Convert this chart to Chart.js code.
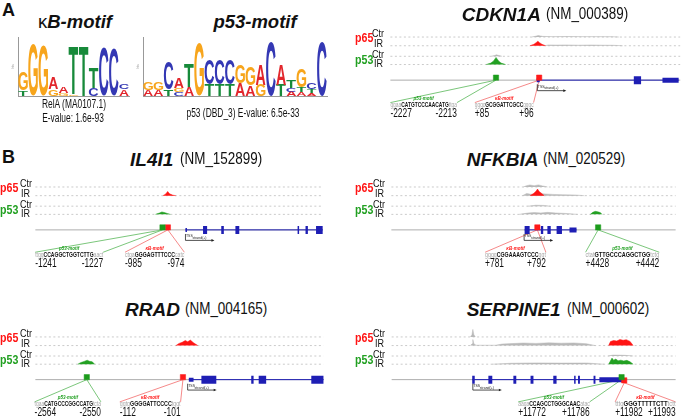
<!DOCTYPE html>
<html>
<head>
<meta charset="utf-8">
<script src="https://cdn.jsdelivr.net/npm/chart.js@4.4.1/dist/chart.umd.min.js"></script>
<style>
body { margin: 0; width: 685px; height: 420px; overflow: hidden; background: #fff; position: relative; font-family: Arial, "Liberation Sans", sans-serif; color: #111; }
.t { position: absolute; white-space: nowrap; line-height: 1; }
canvas { position: absolute; }
</style>
</head>
<body>
<script>
// ---- motif logos (letters bottom -> top, information content in bits) ----
const kbLetters = ['TG', 'G', 'G', 'GA', 'GA', 'GT', 'T', 'CT', 'C', 'C', 'AC'];
const kbBits = [[0.19, 0.62], [1.75], [1.7], [0.23, 0.37], [0.1, 0.2], [0.06, 1.63], [1.66], [0.28, 0.72], [1.67], [1.6], [0.22, 0.18]];
const p53Letters = ['AG', 'AG', 'TC', 'CGA', 'AT', 'G', 'TC', 'TC', 'TC', 'AG', 'AG', 'GA', 'C', 'TA', 'ACT', 'ATG', 'ATC', 'C'];
const p53Bits = [[0.2, 0.28], [0.2, 0.26], [0.22, 0.94], [0.14, 0.12, 0.33], [0.3, 0.8], [1.8], [0.38, 0.84], [0.38, 0.84], [0.38, 0.84],
  [0.42, 0.62], [0.36, 0.6], [0.38, 0.68], [1.83], [0.38, 0.68], [0.15, 0.12, 0.28], [0.14, 0.16, 0.62], [0.1, 0.14, 0.2], [1.83]];

// ---- ChIP tracks: positions in kb from the TSS, signal in track units ----
const cdkn1aView = [-7.9, 7.7];
const cdkn1aTx = [-0.03, 7.6];
const cdkn1aExons = [[-0.03, 0.13, 'utr'], [5.19, 5.58, 'cds'], [6.73, 7.6, 'end']];
const cdkn1aMotifs = [
  { tf: 'p53', at: -2.22, from: -2227, to: -2213, seq: ['ggaa', 'CATGTCCCAACATG', 'ttga'] },
  { tf: 'kB', at: 0.1, from: 85, to: 96, seq: ['gggc', 'GCGGATTCGCC', 'gggc'] }];
const cdkn1aP65Ctr = { bg: [[-0.3, 0], [-0.1, 0.8], [0.05, 1.6], [0.3, 0.7], [0.8, 0.4], [1.6, 0.5], [2.4, 0.4], [3.2, 0.4], [4, 0.3], [4.4, 0]], pk: [] };
const cdkn1aP65IR = { bg: [[0.4, 0], [0.6, 0.9], [1, 0.7], [1.5, 0.9], [2.2, 0.6], [2.9, 0.8], [3.5, 0.6], [4.1, 0.5], [4.6, 0]],
  pk: [[-0.4, 0], [-0.18, 1.6], [-0.05, 3.6], [0.03, 5], [0.12, 3.4], [0.25, 1.6], [0.45, 0]] };
const cdkn1aP53Ctr = { bg: [[-2.5, 0], [-2.3, 0.8], [-2.2, 1.6], [-2.05, 0.8], [-1.9, 0]], pk: [] };
const cdkn1aP53IR = { bg: [], pk: [[-2.75, 0], [-2.5, 1.6], [-2.35, 4], [-2.22, 7.8], [-2.08, 4], [-1.95, 1.6], [-1.7, 0]] };

const il4i1View = [-7.0, 6.4];
const il4i1Tx = [0, 6.4];
const il4i1Exons = [[0, 0.07, 'utr'], [0.82, 1.01, 'cds'], [1.67, 1.79, 'cds'], [2.33, 2.51, 'cds'], [5.23, 5.3, 'cds'], [5.6, 5.71, 'cds'], [6.09, 6.4, 'cds']];
const il4i1Motifs = [
  { tf: 'p53', at: -1.07, from: -1241, to: -1227, seq: ['ttgg', 'CCAGGCTGGTCTTG', 'aact'] },
  { tf: 'kB', at: -0.82, from: -985, to: -974, seq: ['ctga', 'GGGAGTTTCCC', 'catc'] }];
const il4i1P65Ctr = { bg: [], pk: [] };
const il4i1P65IR = { bg: [], pk: [[-1.05, 0], [-0.92, 1.8], [-0.83, 4.6], [-0.74, 2], [-0.6, 0.6], [-0.45, 0]] };
const il4i1P53Ctr = { bg: [], pk: [] };
const il4i1P53IR = { bg: [], pk: [[-1.4, 0], [-1.22, 1.4], [-1.1, 2.7], [-0.98, 2], [-0.85, 1], [-0.7, 0]] };

const nfkbiaView = [-7.93, 9.05];
const nfkbiaTx = [0.03, 3.13];
const nfkbiaExons = [[0.03, 0.33, 'cds'], [1.0, 1.14, 'cds'], [1.39, 1.59, 'cds'], [1.94, 2.26, 'cds'], [2.71, 3.13, 'end']];
const nfkbiaMotifs = [
  { tf: 'kB', at: 0.79, from: 781, to: 792, seq: ['gggg', 'CGGAAAGTCCC', 'ggt'] },
  { tf: 'p53', at: 4.42, from: 4428, to: 4442, seq: ['ctat', 'GTTGCCCAGGCTGG', 'tctg'] }];
const nfkbiaP65Ctr = { bg: [[-0.05, 0], [0.15, 1.5], [0.35, 2.2], [0.6, 1.4], [0.85, 2.3], [1.1, 1.2], [1.4, 0]], pk: [] };
const nfkbiaP65IR = { bg: [[-0.1, 0], [0.15, 2.4], [0.4, 1.6], [0.6, 1.2], [1.0, 2.2], [1.3, 1.8], [1.7, 1.4], [2.3, 1], [3, 0.8], [3.6, 0]],
  pk: [[0.35, 0], [0.58, 2.6], [0.72, 5], [0.8, 7.3], [0.9, 4.5], [1.05, 2.4], [1.2, 0]] };
const nfkbiaP53Ctr = { bg: [[0.2, 0], [0.7, 1], [1.2, 0.8], [1.6, 0]], pk: [] };
const nfkbiaP53IR = { bg: [[-0.3, 0], [0.2, 1.4], [0.6, 2], [1.0, 1.6], [1.4, 2.2], [1.9, 1.5], [2.5, 1], [3.2, 0]],
  pk: [[3.95, 0], [4.1, 2.2], [4.25, 3.3], [4.4, 2.8], [4.55, 2], [4.65, 0]] };

const rradView = [-3.88, 3.46];
const rradTx = [0.03, 3.46];
const rradExons = [[0.03, 0.15, 'utr'], [0.35, 0.73, 'cds'], [1.62, 1.68, 'cds'], [1.81, 2.0, 'cds'], [3.15, 3.46, 'cds']];
const rradMotifs = [
  { tf: 'p53', at: -2.57, from: -2564, to: -2550, seq: ['tgaa', 'CATGCCCGGCCATG', 'tcta'] },
  { tf: 'kB', at: -0.12, from: -112, to: -101, seq: ['ggtg', 'GGGGATTCCCC', 'tggt'] }];
const rradP65Ctr = { bg: [], pk: [] };
const rradP65IR = { bg: [], pk: [[-0.3, 0], [-0.22, 2.4], [-0.14, 3.6], [-0.06, 5.6], [0.0, 4.2], [0.07, 6], [0.14, 3.4], [0.2, 1.6], [0.26, 0]] };
const rradP53Ctr = { bg: [], pk: [] };
const rradP53IR = { bg: [], pk: [[-2.8, 0], [-2.72, 1.8], [-2.64, 3], [-2.56, 4.4], [-2.5, 3.2], [-2.43, 2.6], [-2.37, 0]] };

const serpineView = [-6.43, 16.06];
const serpineTx = [-0.05, 11.82];
const serpineExons = [[-0.05, 0.15, 'cds'], [1.23, 1.54, 'cds'], [3.21, 3.44, 'cds'], [4.57, 4.8, 'cds'], [6.37, 6.63, 'cds'],
  [8.02, 8.14, 'cds'], [8.33, 8.48, 'cds'], [9.56, 9.71, 'cds'], [10.02, 11.82, 'end']];
const serpineMotifs = [
  { tf: 'p53', at: 11.78, from: 11772, to: 11786, seq: ['aaga', 'CCAGCCTGGGCAAC', 'atac'] },
  { tf: 'kB', at: 11.99, from: 11982, to: 11993, seq: ['tttg', 'GGGTTTTTCTT', 'tctt'] }];
const serpineP65Ctr = { bg: [[-0.2, 0], [-0.07, 2.5], [0, 8.3], [0.08, 2.5], [0.2, 0]], pk: [] };
const serpineP65IR = { bg: [[-0.2, 0], [-0.06, 2], [0, 6.7], [0.08, 2], [0.25, 0.4], [1.8, 0.4], [2.3, 1.6], [3.1, 2.2], [4, 2.8], [5, 2.4], [6, 3], [7, 2.6], [8, 2.9], [9, 2], [9.7, 0]],
  pk: [[10.75, 0], [10.9, 4.4], [11.15, 5.6], [11.4, 5], [11.65, 6.7], [11.9, 5.8], [12.15, 6.5], [12.45, 4.6], [12.7, 0]] };
const serpineP53Ctr = { bg: [[10.7, 0], [11.1, 1], [12, 0.8], [12.7, 0]], pk: [] };
const serpineP53IR = { bg: [[1.5, 0], [3, 1], [5, 1.4], [7, 1.2], [9, 1.3], [10.4, 0]],
  pk: [[10.75, 0], [10.88, 3.2], [11.02, 6.7], [11.15, 4.4], [11.32, 5.6], [11.5, 3.8], [11.72, 4.4], [11.95, 3.6], [12.2, 4.2], [12.45, 2.6], [12.7, 0]] };

// ---- styles / layout ----
const LETTER_COL = { A: '#e2262c', C: '#3438b4', G: '#f7a51c', T: '#178a3a' };
const GRAY = '#b8b8b8';
const COL = { p65: '#ff1414', p53: '#22a022' };
const LINK = { p53: '#6cc06c', kB: '#f47c7c' };
const BOX = { p53: '#1c9c1c', kB: '#ff1a1a' };
const BLUE = '#1e1eb4';
const EXON_H = { utr: 4, cds: 8, end: 5 };
const ROWS = { tracks: [11.5, 21, 32.5, 41.5], gene: 58.5, arrow: 70, motifLabel: 79, seq: 86, num: 95 };

const panels = [
  { gene: 'CDKN1A', nm: 'NM_000389', box: [345, 22, 340, 108], track: [387, 685], title: [461.7, 545.7, 14], labelX: [355, 372],
    view: cdkn1aView, tx: cdkn1aTx, exons: cdkn1aExons, motifs: cdkn1aMotifs, spans: [[-7.9, -4.32], [-3.36, -0.2]],
    tracks: [cdkn1aP65Ctr, cdkn1aP65IR, cdkn1aP53Ctr, cdkn1aP53IR] },
  { gene: 'IL4I1', nm: 'NM_152899', box: [0, 172, 345, 103], track: [31.7, 326.7], title: [130, 180, 159], labelX: [0, 19.5],
    view: il4i1View, tx: il4i1Tx, exons: il4i1Exons, motifs: il4i1Motifs, spans: [[-7.01, -3.84], [-2.82, -0.05]],
    tracks: [il4i1P65Ctr, il4i1P65IR, il4i1P53Ctr, il4i1P53IR] },
  { gene: 'NFKBIA', nm: 'NM_020529', box: [345, 172, 340, 103], track: [388, 680], title: [466.7, 543, 159], labelX: [355, 373],
    view: nfkbiaView, tx: nfkbiaTx, exons: nfkbiaExons, motifs: nfkbiaMotifs, spans: [[-2.33, 1.3], [3.67, 8.07]],
    tracks: [nfkbiaP65Ctr, nfkbiaP65IR, nfkbiaP53Ctr, nfkbiaP53IR] },
  { gene: 'RRAD', nm: 'NM_004165', box: [0, 322, 345, 98], track: [31.7, 327.5], title: [125, 185, 309], labelX: [0, 19.5],
    view: rradView, tx: rradTx, exons: rradExons, motifs: rradMotifs, spans: [[-3.9, -2.21], [-1.73, -0.18]],
    tracks: [rradP65Ctr, rradP65IR, rradP53Ctr, rradP53IR] },
  { gene: 'SERPINE1', nm: 'NM_000602', box: [345, 322, 340, 98], track: [388.3, 680], title: [466.7, 566.7, 309], labelX: [355, 373],
    view: serpineView, tx: serpineTx, exons: serpineExons, motifs: serpineMotifs, spans: [[3.59, 9.25], [11.27, 16.06]], drop: [0, 3.5],
    tracks: [serpineP65Ctr, serpineP65IR, serpineP53Ctr, serpineP53IR] }
];

// ---- helpers ----
function label(x, y, html, style, align, sx) {
  const d = document.createElement('div');
  d.className = 't';
  d.innerHTML = html;
  Object.assign(d.style, style || {});
  d.style.left = x + 'px';
  d.style.top = y + 'px';
  sx = sx || 1;
  if (align === 'center') { d.style.transformOrigin = '50% 50%'; d.style.transform = 'translate(-50%,-50%) scaleX(' + sx + ')'; }
  else if (align === 'right') { d.style.transformOrigin = '100% 50%'; d.style.transform = 'translate(-100%,-50%) scaleX(' + sx + ')'; }
  else { d.style.transformOrigin = '0 50%'; d.style.transform = 'translateY(-50%) scaleX(' + sx + ')'; }
  document.body.appendChild(d);
}

function makeCanvas(b) {
  const c = document.createElement('canvas');
  c.width = b[2]; c.height = b[3];
  c.style.left = b[0] + 'px'; c.style.top = b[1] + 'px';
  document.body.appendChild(c);
  return c;
}

const letterPlugin = {
  id: 'letters',
  afterDatasetsDraw(chart) {
    const ctx = chart.ctx;
    chart.data.datasets.forEach((ds, i) => {
      chart.getDatasetMeta(i).data.forEach((bar, j) => {
        const L = ds.letters[j];
        if (!L) return;
        const p = bar.getProps(['x', 'y', 'base', 'width'], true);
        const h = p.base - p.y;
        if (h < 0.4) return;
        ctx.save();
        ctx.font = 'bold 100px Arial';
        const m = ctx.measureText(L);
        const gw = m.actualBoundingBoxLeft + m.actualBoundingBoxRight;
        const gh = m.actualBoundingBoxAscent + m.actualBoundingBoxDescent;
        ctx.translate(p.x - p.width / 2, p.base);
        ctx.scale(p.width / gw, h / gh);
        ctx.fillStyle = LETTER_COL[L];
        ctx.fillText(L, m.actualBoundingBoxLeft, -m.actualBoundingBoxDescent);
        ctx.restore();
      });
    });
  }
};

function logo(box, letters, bits) {
  const layers = Math.max(...letters.map(s => s.length));
  const datasets = [];
  for (let k = 0; k < layers; k++) {
    datasets.push({
      data: bits.map(b => b[k] || 0),
      letters: letters.map(s => s[k] || ''),
      backgroundColor: 'rgba(0,0,0,0)',
      barPercentage: 1, categoryPercentage: 0.94
    });
  }
  new Chart(makeCanvas(box), {
    type: 'bar',
    data: { labels: letters.map((s, i) => String(i + 1)), datasets },
    options: {
      responsive: false, animation: false,
      layout: { padding: { top: 4, right: 2 } },
      plugins: { legend: { display: false }, tooltip: { enabled: false } },
      scales: {
        x: { stacked: true, grid: { display: false }, border: { color: '#999' },
          ticks: { font: { size: 3 }, color: '#999', padding: 0, maxRotation: 0, autoSkip: false },
          afterFit(s) { s.height = 5; } },
        y: { stacked: true, min: 0, max: 2, grid: { display: false }, border: { color: '#999' },
          ticks: { stepSize: 1, font: { size: 4 }, color: '#999', padding: 1 },
          title: { display: true, text: 'bits', font: { size: 3 }, color: '#999', padding: 0 },
          afterFit(s) { s.width = 7; } }
      }
    },
    plugins: [letterPlugin]
  });
}

const fmt = n => (n > 0 ? '+' + n : String(n));

function genePanel(P) {
  const [bx, by, W, H] = P.box;
  const ppk = (P.track[1] - P.track[0]) / (P.view[1] - P.view[0]);
  const xmin = P.view[0] - (P.track[0] - bx) / ppk;
  const xmax = P.view[1] + (bx + W - P.track[1]) / ppk;
  const R = ROWS;
  const line = (pts, o) => Object.assign({ data: pts, pointRadius: 0, borderWidth: 1, fill: false, tension: 0 }, o);
  const ds = [];

  P.tracks.forEach((t, k) => {
    const row = R.tracks[k];
    const col = k < 2 ? COL.p65 : COL.p53;
    ds.push(line([{ x: P.view[0], y: row }, { x: P.view[1], y: row }], { borderColor: '#cacaca', borderDash: [2, 2.5], order: 9 }));
    if (t.bg.length) ds.push(line(t.bg.map(([x, v]) => ({ x, y: row - v })), { borderColor: GRAY, backgroundColor: GRAY, borderWidth: 0.5, fill: { value: row }, order: 8 }));
    if (t.pk.length) ds.push(line(t.pk.map(([x, v]) => ({ x, y: row - v })), { borderColor: col, backgroundColor: col, borderWidth: 0.5, fill: { value: row }, order: 7 }));
  });

  ds.push(line([{ x: P.view[0], y: R.gene }, { x: P.view[1], y: R.gene }], { borderColor: '#adadad', order: 6 }));
  ds.push(line([{ x: P.tx[0], y: R.gene }, { x: P.tx[1], y: R.gene }], { borderColor: BLUE, order: 2 }));
  P.exons.forEach(([s, e, type]) => {
    ds.push(line([{ x: s, y: R.gene }, { x: e, y: R.gene }], { borderColor: BLUE, borderWidth: EXON_H[type], borderCapStyle: 'butt', order: 1 }));
  });

  P.motifs.forEach((m, i) => {
    const [l, r] = P.spans[i];
    const gy = R.gene + ((P.drop && P.drop[i]) || 0);
    ds.push(line([{ x: l, y: R.seq - 3 }, { x: m.at, y: gy }, { x: r, y: R.seq - 3 }], { borderColor: LINK[m.tf], borderWidth: 0.9, order: 3 }));
    ds.push({ data: [{ x: m.at, y: gy - 2.7 }], showLine: false, pointStyle: 'rect', pointRadius: 3.75,
      backgroundColor: BOX[m.tf], borderColor: BOX[m.tf], borderWidth: 0.5, order: 0 });
  });

  const annot = {
    id: 'annot',
    afterDatasetsDraw(chart) {
      const ctx = chart.ctx, xs = chart.scales.x, ys = chart.scales.y;
      const X = v => xs.getPixelForValue(v), Y = v => ys.getPixelForValue(v);
      // TSS and strand arrow
      const x0 = X(0);
      ctx.save();
      ctx.strokeStyle = '#222'; ctx.fillStyle = '#222'; ctx.lineWidth = 0.8;
      ctx.beginPath(); ctx.moveTo(x0, Y(R.gene + 4.5)); ctx.lineTo(x0, Y(R.arrow)); ctx.lineTo(x0 + 27, Y(R.arrow)); ctx.stroke();
      ctx.beginPath(); ctx.moveTo(x0 + 29, Y(R.arrow)); ctx.lineTo(x0 + 26, Y(R.arrow) - 1.3); ctx.lineTo(x0 + 26, Y(R.arrow) + 1.3); ctx.fill();
      ctx.font = '3.5px Arial'; ctx.textBaseline = 'middle';
      ctx.fillText('TSS', x0 + 0.5, Y(R.gene + 7));
      ctx.textAlign = 'center';
      ctx.fillText('strand(+)', x0 + 14, Y(R.arrow - 2.5));
      ctx.restore();

      P.motifs.forEach((m, i) => {
        const [l, r] = P.spans[i];
        const xl = X(l), xr = X(r);
        ctx.save();
        ctx.textBaseline = 'middle';
        ctx.font = 'italic bold 4.5px Arial';
        ctx.fillStyle = COL[m.tf === 'p53' ? 'p53' : 'p65'];
        ctx.textAlign = 'center';
        ctx.fillText(m.tf === 'p53' ? 'p53-motif' : 'κB-motif', (xl + xr) / 2, Y(R.motifLabel));
        // sequence, fitted to the span of the connector lines
        const parts = [[m.seq[0], '6.5px Arial', '#a8a8a8'], [m.seq[1], 'bold 6.5px Arial', '#111'], [m.seq[2], '6.5px Arial', '#a8a8a8']];
        let w = 0;
        parts.forEach(p => { ctx.font = p[1]; p.w = ctx.measureText(p[0]).width; w += p.w; });
        ctx.save();
        ctx.translate(xl, Y(R.seq));
        ctx.scale((xr - xl) / w, 1);
        ctx.textAlign = 'left';
        let cx = 0;
        parts.forEach(p => { ctx.font = p[1]; ctx.fillStyle = p[2]; ctx.fillText(p[0], cx, 0); cx += p.w; });
        ctx.restore();
        // coordinates
        ctx.font = '12px Arial'; ctx.fillStyle = '#111';
        ctx.save(); ctx.translate(xl, Y(R.num)); ctx.scale(0.7, 1); ctx.textAlign = 'left'; ctx.fillText(fmt(m.from), 0, 0); ctx.restore();
        ctx.save(); ctx.translate(xr, Y(R.num)); ctx.scale(0.7, 1); ctx.textAlign = 'right'; ctx.fillText(fmt(m.to), 0, 0); ctx.restore();
        ctx.restore();
      });
    }
  };

  new Chart(makeCanvas(P.box), {
    type: 'line',
    data: { datasets: ds },
    options: {
      responsive: false, animation: false, spanGaps: false,
      layout: { padding: 0 },
      plugins: { legend: { display: false }, tooltip: { enabled: false } },
      scales: {
        x: { type: 'linear', min: xmin, max: xmax, display: false },
        y: { type: 'linear', min: 0, max: H, reverse: true, display: false }
      }
    },
    plugins: [annot]
  });

  // titles and track labels
  const [t1, t2, ty] = P.title;
  label(t1, ty, '<b><i>' + P.gene + '</i></b>', { fontSize: '19px' });
  label(t2, ty, '(' + P.nm + ')', { fontSize: '16px' }, 'left', 0.84);
  const r = ROWS.tracks.map(v => by + v);
  const [lx, cx] = P.labelX;
  label(lx, (r[0] + r[1]) / 2, 'p65', { fontSize: '12.5px', fontWeight: 'bold', color: COL.p65 }, 'left', 0.85);
  label(lx, (r[2] + r[3]) / 2 + 0.5, 'p53', { fontSize: '12.5px', fontWeight: 'bold', color: COL.p53 }, 'left', 0.85);
  label(cx, r[0] - 1, 'Ctr', { fontSize: '11px' }, 'left', 0.82);
  label(cx + 1.5, r[1] - 0.5, 'IR', { fontSize: '11px' }, 'left', 0.82);
  label(cx, r[2] - 1, 'Ctr', { fontSize: '11px' }, 'left', 0.82);
  label(cx + 1.5, r[3] - 0.5, 'IR', { fontSize: '11px' }, 'left', 0.82);
}

// ---- panel A: motifs ----
label(2, 10, '<b>A</b>', { fontSize: '18px' });
label(2, 157, '<b>B</b>', { fontSize: '18px' });
label(75, 22, '<span>κ</span><b><i>B-motif</i></b>', { fontSize: '18.5px' }, 'center');
label(255, 22, '<b><i>p53-motif</i></b>', { fontSize: '18.5px' }, 'center');
logo([11, 33, 120, 68], kbLetters, kbBits);
logo([136, 33, 193, 68], p53Letters, p53Bits);
label(74, 103.5, 'RelA (MA0107.1)', { fontSize: '12px' }, 'center', 0.7);
label(73, 118, 'E-value: 1.6e-93', { fontSize: '12px' }, 'center', 0.7);
label(242.5, 113.3, 'p53 (DBD_3) E-value: 6.5e-33', { fontSize: '12px' }, 'center', 0.7);

// ---- ChIP panels ----
panels.forEach(genePanel);
</script>
</body>
</html>
